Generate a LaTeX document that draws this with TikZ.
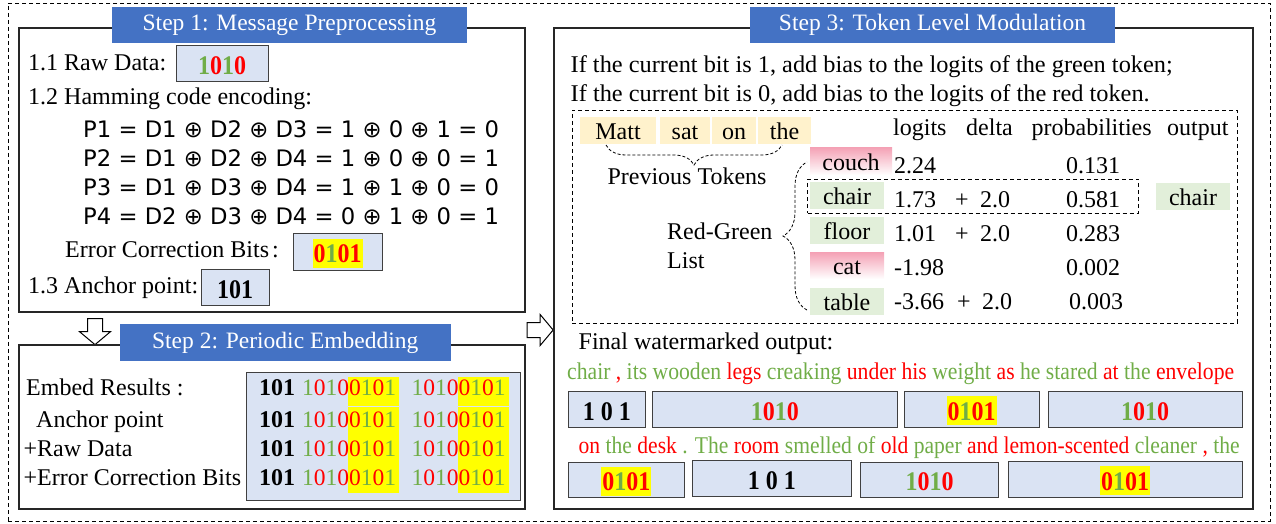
\documentclass[tikz,border=0pt]{standalone}
\usepackage{fontspec}
\usepackage{graphicx}
\setmainfont{Liberation Serif}
\newfontfamily\eqfont{DejaVu Sans}
\usetikzlibrary{fit,shapes.arrows,decorations.pathreplacing}
\definecolor{tblue}{HTML}{4472C4}
\definecolor{bfill}{HTML}{DAE3F3}
\definecolor{bdraw}{HTML}{404040}
\definecolor{wgreen}{HTML}{70AD47}
\definecolor{wred}{HTML}{FF0000}
\definecolor{hyel}{HTML}{FFFF00}
\definecolor{tokor}{HTML}{FFF2CC}
\definecolor{tokgr}{HTML}{E2EFDA}
\definecolor{tokpk}{HTML}{F4A0B4}
\newcommand\GG[1]{\textcolor{wgreen}{#1}}
\newcommand\RR[1]{\textcolor{wred}{#1}}
\newcommand\tallbits[1]{\scalebox{1}[1.12]{#1}}
\newcommand\YY[1]{{\setlength{\fboxsep}{0pt}\colorbox{hyel}{\kern1pt\rule[-5pt]{0pt}{29pt}#1\kern1pt}}}
\newcommand\fsz[1]{\fontsize{#1}{#1}\selectfont}
\newcommand\bitsA{\GG{1}\RR{0}\GG{1}\RR{0}}
\newcommand\bitsB{\RR{0}\GG{1}\RR{0}\RR{1}}
\newcommand\bitsC{\RR{0}\GG{1}\RR{0}\GG{1}}
\tikzset{
  pos/.style n args={4}{minimum width={#3-#1}, minimum height={#4-#2}, at={({(#1+#3)/2},{(#2+#4)/2})}},
  frame/.style={draw=black!85, line width=1.2pt, inner sep=0pt},
  ttl/.style={fill=tblue, text=white, inner sep=0pt, font=\fsz{23.5}, text height=16pt, text depth=4pt},
  bbox/.style={draw=bdraw, fill=bfill, line width=1pt, inner sep=0pt, font=\fsz{24}, text height=22pt, text depth=0pt},
  txt/.style={inner sep=0pt, anchor=west, font=\fsz{24}, text height=16pt, text depth=5pt},
  eqn/.style={inner sep=0pt, anchor=west, font=\eqfont\fsz{22.7}},
  tokbox/.style={inner sep=0pt, font=\fsz{24}, text height=20pt, text depth=2pt},
  dframe/.style={draw, dashed, dash pattern=on 4pt off 3pt, line width=0.9pt, inner sep=0pt},
  blockarrow/.style={single arrow, draw, line width=1pt, fill=white, inner sep=7pt,
    minimum height=26pt, single arrow head extend=8pt, single arrow tip angle=100},
  dbrace/.style={draw, dashed, dash pattern=on 3pt off 2pt, line width=0.8pt, decorate}
}
\begin{document}
\begin{tikzpicture}[x=1pt, y=-1pt]
\useasboundingbox (0,0) rectangle (1276,524);
% outer frame
\node[dframe, pos={8}{3}{1270}{521}] (outer) {};

% ---------- Step 1
\node[frame, pos={19}{28}{525}{312}] (s1) {};
\node[ttl, pos={112}{7}{467}{43}] (t1) {Step 1: Message Preprocessing};
\node[txt] (rawl) at (28,65) {1.1 Raw Data:};
\node[bbox, pos={176}{46}{268}{82}] (raw) {\tallbits{\textbf{\bitsA}}};
\node[txt] (haml) at (28,99) {1.2 Hamming code encoding:};
\node[eqn] (eq1) at (83,129) {P1 = D1 ⊕ D2 ⊕ D3 = 1 ⊕ 0 ⊕ 1 = 0};
\node[eqn] (eq2) at (83,158) {P2 = D1 ⊕ D2 ⊕ D4 = 1 ⊕ 0 ⊕ 0 = 1};
\node[eqn] (eq3) at (83,187) {P3 = D1 ⊕ D3 ⊕ D4 = 1 ⊕ 1 ⊕ 0 = 0};
\node[eqn] (eq4) at (83,216) {P4 = D2 ⊕ D3 ⊕ D4 = 0 ⊕ 1 ⊕ 0 = 1};
\node[txt] (ecbl) at (65,252) {Error Correction Bits\kern3pt:};
\node[bbox, pos={293}{233}{382}{270}] (ecb) {\YY{\tallbits{\textbf{\bitsB}}}};
\node[txt] (ancl) at (28,288) {1.3 Anchor point:};
\node[bbox, pos={201}{269}{269}{305}] (anc) {\tallbits{\textbf{101}}};

% arrows
\node[blockarrow, shape border rotate=270] (darr) at (95,328.5) {};
\node[blockarrow] (rarr) at (537,330) {};

% ---------- Step 2
\node[frame, pos={19}{345}{525}{509}] (s2) {};
\node[ttl, pos={119.5}{324}{451}{361}] (t2) {Step 2: Periodic Embedding};
\node[txt] (e1) at (26,390) {Embed Results :};
\node[txt] (e2) at (36,422) {Anchor point};
\node[txt] (e3) at (23.4,451) {+Raw Data};
\node[txt] (e4) at (23.4,480) {+Error Correction Bits};
\node[bbox, pos={246.5}{372}{520}{500}] (emb) {};
\fill[hyel] (348,377) rectangle (399,405.7);
\fill[hyel] (458,377) rectangle (509,405.7);
\fill[hyel] (348,407) rectangle (399,493);
\fill[hyel] (458,407) rectangle (509,493);
\foreach \yy [count=\i] in {390,422,451,480}{
  \node[txt] (ra\i) at (259,\yy) {\textbf{101}};
  \node[txt, font=\fsz{23.5}] (rb\i) at (302,\yy) {\bitsA\bitsC};
  \node[txt, font=\fsz{23.5}] (rc\i) at (411.5,\yy) {\bitsA\bitsC};
}

% ---------- Step 3
\node[frame, pos={554}{28}{1253}{509}] (s3) {};
\node[ttl, pos={750}{7}{1115}{43}] (t3) {Step 3: Token Level Modulation};
\node[txt] (l1) at (570.5,67) {\resizebox{602pt}{\height}{If the current bit is 1, add bias to the logits of the green token;}};
\node[txt] (l2) at (570.5,96) {\resizebox{579pt}{\height}{If the current bit is 0, add bias to the logits of the red token.}};
\node[dframe, pos={572}{110}{1237}{323}] (tbl) {};

\node[tokbox, fill=tokor, pos={580}{117}{656}{144}] (matt) {Matt};
\node[tokbox, fill=tokor, pos={660}{117}{710}{144}] (sat) {sat};
\node[tokbox, fill=tokor, pos={712}{117}{756}{144}] (on) {on};
\node[tokbox, fill=tokor, pos={758}{117}{811}{144}] (the) {the};
\coordinate (pb1) at (606,145);
\coordinate (pb2) at (782,145);
\draw[dbrace, decoration={brace, mirror, amplitude=20pt}] (pb1) -- (pb2);
\node[txt, anchor=center] (prev) at (687,179) {Previous Tokens};

\node[txt] (h1) at (893,130) {logits};
\node[txt] (h2) at (966,130) {delta};
\node[txt] (h3) at (1031.5,130) {probabilities};
\node[txt] (h4) at (1167,130) {output};

\node[tokbox, top color=tokpk, bottom color=white, pos={810}{147}{892}{175}] (couch) {couch};
\node[tokbox, fill=tokgr, pos={810}{182}{884}{209}] (chair) {chair};
\node[tokbox, fill=tokgr, pos={810}{217}{884}{244}] (floor) {floor};
\node[tokbox, top color=tokpk, bottom color=white, pos={810}{252}{884}{279}] (cat) {cat};
\node[tokbox, fill=tokgr, pos={810}{288}{884}{315}] (table) {table};

\node[txt] (lg1) at (894,168) {2.24};
\node[txt] (lg2) at (894,202) {1.73};
\node[txt] (lg3) at (894,236) {1.01};
\node[txt] (lg4) at (894,270) {-1.98};
\node[txt] (lg5) at (894,304) {-3.66};
\node[txt, anchor=center] (p2) at (962,202) {+};
\node[txt, anchor=center] (p3) at (962,236) {+};
\node[txt, anchor=center] (p5) at (964,304) {+};
\node[txt] (d2) at (980,202) {2.0};
\node[txt] (d3) at (980,236) {2.0};
\node[txt] (d5) at (982,304) {2.0};
\node[txt] (pr1) at (1066,168) {0.131};
\node[txt] (pr2) at (1066,202) {0.581};
\node[txt] (pr3) at (1066,236) {0.283};
\node[txt] (pr4) at (1066,270) {0.002};
\node[txt] (pr5) at (1069,304) {0.003};
\node[dframe, pos={807.6}{179}{1138.6}{213}] (sel) {};
\node[tokbox, fill=tokgr, pos={1156}{183}{1230}{210}] (out) {chair};

\node[txt] (rg1) at (667,234) {Red-Green};
\node[txt] (rg2) at (667,263) {List};
\coordinate (rb1) at (807,310);
\coordinate (rb2) at (807,162);
\draw[dbrace, decoration={brace, amplitude=24pt}] (rb1) -- (rb2);

\node[txt] (fin) at (578.5,344) {Final watermarked output:};
\node[txt] (ln1) at (567,374) {\resizebox{667pt}{\height}{\GG{chair} \RR{,} \GG{its wooden} \RR{legs} \GG{creaking} \RR{under his} \GG{weight} \RR{as} \GG{he stared} \RR{at} \GG{the} \RR{envelope}}};
\node[txt] (ln2) at (578.5,448) {\resizebox{661pt}{\height}{\RR{on} \GG{the} \RR{desk} \GG{. The} \RR{room} \GG{smelled of} \RR{old} \GG{paper} \RR{and lemon-scented} \GG{cleaner} \RR{,} \GG{the}}};

\node[bbox, pos={568}{391}{645.6}{427}] (b11) {\tallbits{\textbf{1 0 1}}};
\node[bbox, pos={652.7}{391}{897}{427}] (b12) {\tallbits{\textbf{\bitsA}}};
\node[bbox, pos={904}{391}{1039}{427}] (b13) {\YY{\tallbits{\textbf{\bitsB}}}};
\node[bbox, pos={1048}{391}{1242}{427}] (b14) {\tallbits{\textbf{\bitsA}}};
\node[bbox, pos={568}{462}{684.6}{497}] (b21) {\YY{\tallbits{\textbf{\bitsB}}}};
\node[bbox, pos={692.6}{460}{851}{496}] (b22) {\tallbits{\textbf{1 0 1}}};
\node[bbox, pos={860.7}{462}{998.7}{497}] (b23) {\tallbits{\textbf{\bitsA}}};
\node[bbox, pos={1008}{461}{1242}{497}] (b24) {\YY{\tallbits{\textbf{\bitsB}}}};
\end{tikzpicture}
\end{document}
